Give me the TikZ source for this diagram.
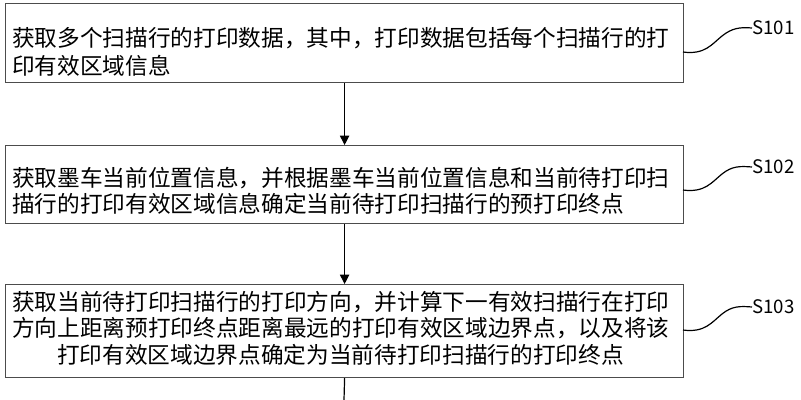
\documentclass[tikz,border=0pt]{standalone}
\usepackage{fontspec}
\newfontfamily\cjk{Noto Sans CJK SC}
\usetikzlibrary{arrows.meta}
\begin{document}
\begin{tikzpicture}[x=0.75pt,y=-0.75pt,
  boxstyle/.style={draw=black!70, line width=0.9pt},
  txt/.style={anchor=west, inner sep=0pt, font=\cjk\fontsize{17pt}{20pt}\selectfont},
  lab/.style={anchor=west, inner sep=0pt, font=\cjk\fontsize{14pt}{16pt}\selectfont},
  arr/.style={-{Triangle[length=7pt,width=7pt]}, line width=0.9pt},
  wig/.style={line width=0.9pt}]
\useasboundingbox (0,0) rectangle (801,400);
\node[boxstyle, minimum width=508.5pt, minimum height=59.25pt, anchor=north west, inner sep=0] (b1) at (5,3) {};
\node[boxstyle, minimum width=508.5pt, minimum height=58.5pt, anchor=north west, inner sep=0] (b2) at (5,145) {};
\node[boxstyle, minimum width=508.5pt, minimum height=69.75pt, anchor=north west, inner sep=0] (b3) at (5,284) {};
\node[txt] (t11) at (12,38) {获取多个扫描行的打印数据，其中，打印数据包括每个扫描行的打};
\node[txt] (t12) at (12,66) {印有效区域信息};
\node[txt] (t21) at (12,178) {获取墨车当前位置信息，并根据墨车当前位置信息和当前待打印扫};
\node[txt] (t22) at (12,204) {描行的打印有效区域信息确定当前待打印扫描行的预打印终点};
\node[txt] (t31) at (12,302) {获取当前待打印扫描行的打印方向，并计算下一有效扫描行在打印};
\node[txt] (t32) at (12,328) {方向上距离预打印终点距离最远的打印有效区域边界点，以及将该};
\node[txt] (t33) at (57,355) {打印有效区域边界点确定为当前待打印扫描行的打印终点};
\draw[arr] (b1.south) -- (b2.north);
\draw[arr] (b2.south) -- (b3.north);
\coordinate (e) at (344,400);
\draw[line width=0.9pt] (b3.south) -- (e);
\node[lab] (s1) at (752,28) {S101};
\node[lab] (s2) at (752,167) {S102};
\node[lab] (s3) at (752,307) {S103};
\draw[wig] (683,52) .. controls (705,55) and (712,44) .. (722,36) .. controls (732,28) and (740,27) .. (s1.west);
\draw[wig] (683,190) .. controls (705,193) and (712,182) .. (722,174) .. controls (732,166) and (740,166) .. (s2.west);
\draw[wig] (683,330) .. controls (705,333) and (712,322) .. (722,314) .. controls (732,306) and (740,306) .. (s3.west);
\end{tikzpicture}
\end{document}
